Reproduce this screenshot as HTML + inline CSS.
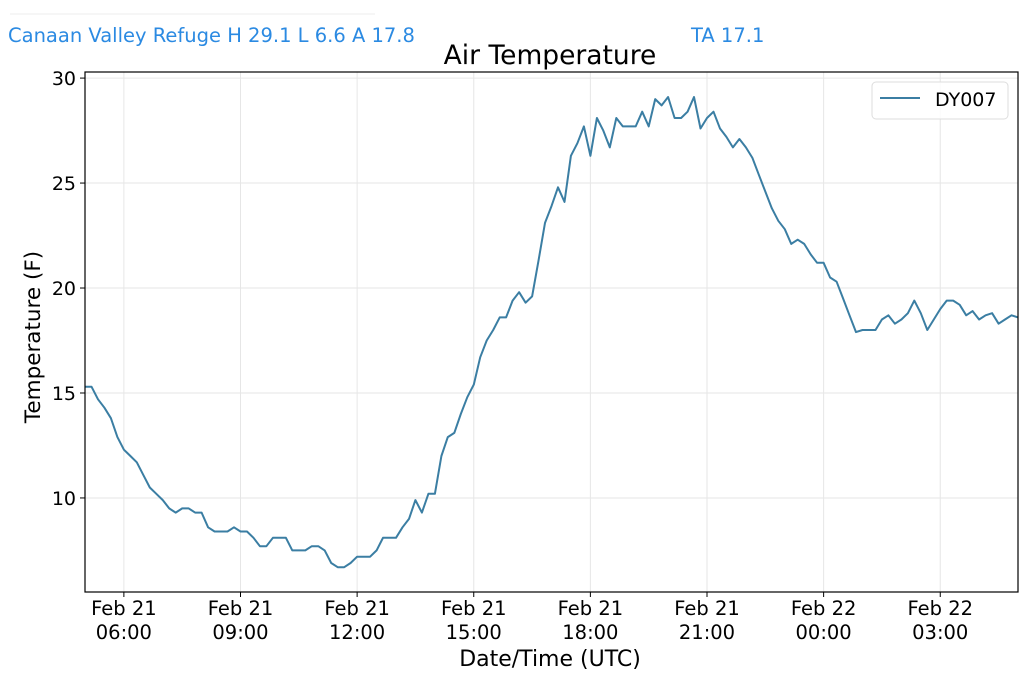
<!DOCTYPE html>
<html><head><meta charset="utf-8"><style>
html,body{margin:0;padding:0;background:#fff;}
svg{display:block;font-family:"DejaVu Sans","Liberation Sans",sans-serif;}
</style></head><body>
<svg id="chart" width="1024" height="676" viewBox="0 0 1024 676">
<line x1="10" y1="14" x2="375" y2="14" stroke="#eee" stroke-width="1"/>
<text x="8" y="42" font-size="19.5" fill="#2b8ae2">Canaan Valley Refuge H 29.1 L 6.6 A 17.8</text>
<text x="691" y="42" font-size="19.5" fill="#2b8ae2">TA 17.1</text>
<text x="550" y="64" font-size="26.5" text-anchor="middle" fill="#000">Air Temperature</text>
<g id="grid"></g>
<g id="series"></g>
<rect x="85" y="72" width="933" height="520" fill="none" stroke="#000" stroke-width="1.2"/>
<g id="axes"></g>
<text x="550" y="666" font-size="22" text-anchor="middle">Date/Time (UTC)</text>
<text transform="translate(40,337) rotate(-90)" font-size="21.5" text-anchor="middle">Temperature (F)</text>
<g>
<rect x="872" y="82" width="136" height="37" rx="4" fill="#fff" fill-opacity="0.85" stroke="#ddd"/>
<line x1="880" y1="98" x2="920" y2="98" stroke="#3b7ea3" stroke-width="2"/>
<text x="935" y="106" font-size="19">DY007</text>
</g>
</svg>
<script>
const startHour = 5;
const stepMinutes = 10;
const temps = [15.3,15.3,14.7,14.3,13.8,12.9,12.3,12.0,11.7,11.1,10.5,10.2,9.9,9.5,9.3,9.5,9.5,9.3,9.3,8.6,8.4,8.4,8.4,8.6,8.4,8.4,8.1,7.7,7.7,8.1,8.1,8.1,7.5,7.5,7.5,7.7,7.7,7.5,6.9,6.7,6.7,6.9,7.2,7.2,7.2,7.5,8.1,8.1,8.1,8.6,9.0,9.9,9.3,10.2,10.2,12.0,12.9,13.1,14.0,
14.8,15.4,16.7,17.5,18.0,18.6,18.6,19.4,19.8,19.3,19.6,21.3,23.1,23.9,24.8,24.1,26.3,26.9,27.7,26.3,28.1,27.5,26.7,28.1,27.7,27.7,27.7,28.4,27.7,29.0,28.7,29.1,28.1,28.1,28.4,29.1,27.6,28.1,28.4,
27.6,27.2,26.7,27.1,26.7,26.2,25.4,24.6,23.8,23.2,22.8,22.1,22.3,22.1,21.6,21.2,21.2,20.5,20.3,19.5,18.7,17.9,18.0,18.0,18.0,18.5,18.7,18.3,18.5,18.8,19.4,18.8,18.0,18.5,19.0,19.4,19.4,19.2,18.7,18.9,18.5,18.7,18.8,18.3,18.5,18.7,18.6];
const xTickHours = [6,9,12,15,18,21,24,27];
const xTickDates = ["Feb 21","Feb 21","Feb 21","Feb 21","Feb 21","Feb 21","Feb 22","Feb 22"];
const xTickTimes = ["06:00","09:00","12:00","15:00","18:00","21:00","00:00","03:00"];
const yTicks = [10,15,20,25,30];

const X0=85,X1=1018,Y0=72,Y1=592;
const xMin=5,xMax=29,yMin=5.52,yMax=30.29;
const NS="http://www.w3.org/2000/svg";
function xs(h){return X0+(h-xMin)/(xMax-xMin)*(X1-X0);}
function ys(v){return Y1-(v-yMin)/(yMax-yMin)*(Y1-Y0);}
function mk(tag,attrs,parent,txt){const e=document.createElementNS(NS,tag);for(const k in attrs)e.setAttribute(k,attrs[k]);if(txt!==undefined)e.textContent=txt;parent.appendChild(e);return e;}
const grid=document.getElementById('grid'),axes=document.getElementById('axes'),series=document.getElementById('series');
xTickHours.forEach((h,i)=>{
  const x=xs(h);
  let g=mk('line',{x1:x,y1:Y0,x2:x,y2:Y1,stroke:'#e6e6e6','stroke-width':1},grid);
  
  
  let t=mk('line',{x1:x,y1:Y1,x2:x,y2:Y1+5,stroke:'#000','stroke-width':1},axes);
  
  
  let l1=mk('text',{x:x,y:615,'font-size':19.5,'text-anchor':'middle'},axes,xTickDates[i]);
  
  
  let l2=mk('text',{x:x,y:639,'font-size':19.5,'text-anchor':'middle'},axes,xTickTimes[i]);
  
  
});
yTicks.forEach(v=>{
  const y=ys(v);
  let g=mk('line',{x1:X0,y1:y,x2:X1,y2:y,stroke:'#e6e6e6','stroke-width':1},grid);
  
  
  let t=mk('line',{x1:X0-5,y1:y,x2:X0,y2:y,stroke:'#000','stroke-width':1},axes);
  
  
  let l=mk('text',{x:X0-9,y:y+7,'font-size':19,'text-anchor':'end'},axes,String(v));
  
  
});
const pts=temps.map((v,i)=>xs(startHour+i*stepMinutes/60).toFixed(1)+','+ys(v).toFixed(1)).join(' ');
const line=mk('polyline',{points:pts,fill:'none',stroke:'#3b7ea3','stroke-width':2,'stroke-linejoin':'round'},series);


</script>
</body></html>
